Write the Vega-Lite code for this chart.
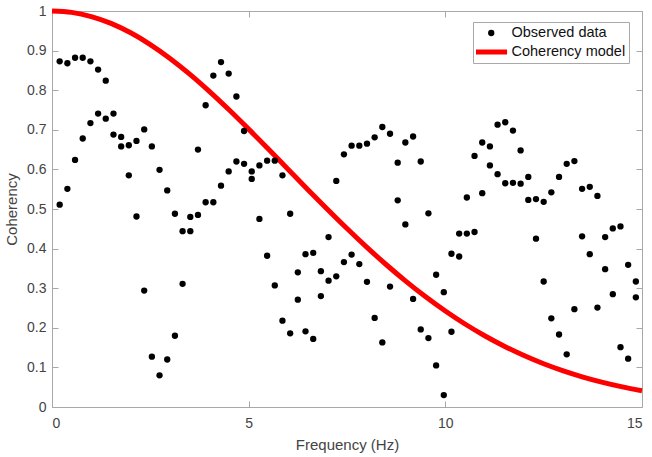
{
  "$schema": "https://vega.github.io/schema/vega-lite/v6.json",
  "width": 590,
  "height": 396,
  "autosize": {"type": "none"},
  "padding": {"left": 52, "top": 11, "right": 10, "bottom": 50},
  "background": "white",
  "config": {
    "view": {"stroke": "#a8a8a8", "strokeWidth": 1},
    "font": "Liberation Sans",
    "axis": {"labelFont": "Liberation Sans", "titleFont": "Liberation Sans", "labelColor": "#444444", "titleColor": "#444444", "tickColor": "#a8a8a8", "domain": false, "grid": false, "titleFontWeight": "normal"}
  },
  "datasets": {
    "obs": [
      {"f":0.195,"c":0.873},{"f":0.195,"c":0.511},
      {"f":0.391,"c":0.868},{"f":0.391,"c":0.551},
      {"f":0.586,"c":0.882},{"f":0.586,"c":0.624},
      {"f":0.781,"c":0.882},{"f":0.781,"c":0.678},
      {"f":0.977,"c":0.873},{"f":0.977,"c":0.717},
      {"f":1.172,"c":0.852},{"f":1.172,"c":0.741},
      {"f":1.367,"c":0.824},{"f":1.367,"c":0.728},
      {"f":1.563,"c":0.741},{"f":1.563,"c":0.688},
      {"f":1.758,"c":0.682},{"f":1.758,"c":0.658},
      {"f":1.953,"c":0.661},{"f":1.953,"c":0.585},
      {"f":2.148,"c":0.672},{"f":2.148,"c":0.481},
      {"f":2.344,"c":0.701},{"f":2.344,"c":0.294},
      {"f":2.539,"c":0.658},{"f":2.539,"c":0.127},
      {"f":2.734,"c":0.599},{"f":2.734,"c":0.080},
      {"f":2.930,"c":0.547},{"f":2.930,"c":0.120},
      {"f":3.125,"c":0.488},{"f":3.125,"c":0.180},
      {"f":3.320,"c":0.444},{"f":3.320,"c":0.311},
      {"f":3.516,"c":0.444},{"f":3.516,"c":0.480},
      {"f":3.711,"c":0.485},{"f":3.711,"c":0.650},
      {"f":3.906,"c":0.762},{"f":3.906,"c":0.517},
      {"f":4.102,"c":0.837},{"f":4.102,"c":0.517},
      {"f":4.297,"c":0.871},{"f":4.297,"c":0.559},
      {"f":4.492,"c":0.842},{"f":4.492,"c":0.595},
      {"f":4.688,"c":0.784},{"f":4.688,"c":0.620},
      {"f":4.883,"c":0.697},{"f":4.883,"c":0.614},
      {"f":5.078,"c":0.595},{"f":5.078,"c":0.576},
      {"f":5.273,"c":0.610},{"f":5.273,"c":0.475},
      {"f":5.469,"c":0.622},{"f":5.469,"c":0.382},
      {"f":5.664,"c":0.622},{"f":5.664,"c":0.307},
      {"f":5.859,"c":0.585},{"f":5.859,"c":0.218},
      {"f":6.055,"c":0.488},{"f":6.055,"c":0.186},
      {"f":6.250,"c":0.340},{"f":6.250,"c":0.271},
      {"f":6.445,"c":0.386},{"f":6.445,"c":0.191},
      {"f":6.641,"c":0.389},{"f":6.641,"c":0.172},
      {"f":6.836,"c":0.343},{"f":6.836,"c":0.280},
      {"f":7.031,"c":0.429},{"f":7.031,"c":0.319},
      {"f":7.227,"c":0.571},{"f":7.227,"c":0.330},
      {"f":7.422,"c":0.638},{"f":7.422,"c":0.366},
      {"f":7.617,"c":0.660},{"f":7.617,"c":0.385},
      {"f":7.813,"c":0.660},{"f":7.813,"c":0.361},
      {"f":8.008,"c":0.665},{"f":8.008,"c":0.316},
      {"f":8.203,"c":0.681},{"f":8.203,"c":0.225},
      {"f":8.398,"c":0.707},{"f":8.398,"c":0.163},
      {"f":8.594,"c":0.690},{"f":8.594,"c":0.304},
      {"f":8.789,"c":0.617},{"f":8.789,"c":0.522},
      {"f":8.984,"c":0.668},{"f":8.984,"c":0.461},
      {"f":9.180,"c":0.683},{"f":9.180,"c":0.273},
      {"f":9.375,"c":0.620},{"f":9.375,"c":0.196},
      {"f":9.570,"c":0.489},{"f":9.570,"c":0.174},
      {"f":9.766,"c":0.334},{"f":9.766,"c":0.105},
      {"f":9.961,"c":0.290},{"f":9.961,"c":0.030},
      {"f":10.156,"c":0.387},{"f":10.156,"c":0.190},
      {"f":10.352,"c":0.438},{"f":10.352,"c":0.380},
      {"f":10.547,"c":0.438},{"f":10.547,"c":0.529},
      {"f":10.742,"c":0.442},{"f":10.742,"c":0.634},
      {"f":10.938,"c":0.668},{"f":10.938,"c":0.540},
      {"f":11.133,"c":0.658},{"f":11.133,"c":0.610},
      {"f":11.328,"c":0.713},{"f":11.328,"c":0.588},
      {"f":11.523,"c":0.719},{"f":11.523,"c":0.565},
      {"f":11.719,"c":0.698},{"f":11.719,"c":0.566},
      {"f":11.914,"c":0.648},{"f":11.914,"c":0.564},
      {"f":12.109,"c":0.581},{"f":12.109,"c":0.523},
      {"f":12.305,"c":0.525},{"f":12.305,"c":0.425},
      {"f":12.500,"c":0.518},{"f":12.500,"c":0.317},
      {"f":12.695,"c":0.542},{"f":12.695,"c":0.224},
      {"f":12.891,"c":0.581},{"f":12.891,"c":0.183},
      {"f":13.086,"c":0.614},{"f":13.086,"c":0.133},
      {"f":13.281,"c":0.621},{"f":13.281,"c":0.247},
      {"f":13.477,"c":0.551},{"f":13.477,"c":0.431},
      {"f":13.672,"c":0.556},{"f":13.672,"c":0.386},
      {"f":13.867,"c":0.533},{"f":13.867,"c":0.251},
      {"f":14.063,"c":0.429},{"f":14.063,"c":0.348},
      {"f":14.258,"c":0.451},{"f":14.258,"c":0.285},
      {"f":14.453,"c":0.456},{"f":14.453,"c":0.151},
      {"f":14.648,"c":0.359},{"f":14.648,"c":0.122},
      {"f":14.844,"c":0.317},{"f":14.844,"c":0.277}
    ],
    "model": [
      {"f":0,"c":1},{"f":0.5,"c":0.9965},{"f":1,"c":0.9859},{"f":1.5,"c":0.9686},{"f":2,"c":0.9449},
      {"f":2.5,"c":0.9152},{"f":3,"c":0.8802},{"f":3.5,"c":0.8406},{"f":4,"c":0.7971},{"f":4.5,"c":0.7505},
      {"f":5,"c":0.7017},{"f":5.5,"c":0.6513},{"f":6,"c":0.6004},{"f":6.5,"c":0.5495},{"f":7,"c":0.4994},
      {"f":7.5,"c":0.4506},{"f":8,"c":0.4037},{"f":8.5,"c":0.3592},{"f":9,"c":0.3173},{"f":9.5,"c":0.2783},
      {"f":10,"c":0.2424},{"f":10.5,"c":0.2096},{"f":11,"c":0.18},{"f":11.5,"c":0.1535},{"f":12,"c":0.1299},
      {"f":12.5,"c":0.1092},{"f":13,"c":0.0912},{"f":13.5,"c":0.0756},{"f":14,"c":0.0622},{"f":14.5,"c":0.0508},
      {"f":15,"c":0.0412}
    ]
  },
  "layer": [
    {
      "data": {"name": "model"},
      "transform": [{"calculate": "'Coherency model'", "as": "series"}],
      "mark": {"type": "line", "strokeWidth": 5, "interpolate": "monotone", "clip": false},
      "encoding": {
        "x": {"field": "f", "type": "quantitative", "scale": {"domain": [0, 15], "nice": false, "zero": false},
          "axis": {"orient": "top", "values": [0, 5, 10, 15], "labels": false, "title": null, "tickSize": -6}},
        "y": {"field": "c", "type": "quantitative", "scale": {"domain": [0, 1], "nice": false},
          "axis": {"orient": "right", "values": [0,0.1,0.2,0.3,0.4,0.5,0.6,0.7,0.8,0.9,1], "labels": false, "title": null, "tickSize": -6}},
        "color": {"field": "series", "type": "nominal",
          "scale": {"domain": ["Observed data", "Coherency model"], "range": ["#000000", "#ff0000"]},
          "legend": {
            "orient": "none", "legendX": 421, "legendY": 11, "title": null,
            "strokeColor": "#a8a8a8", "fillColor": "white", "padding": 3,
            "labelFont": "Liberation Sans", "labelFontSize": 14.5, "labelColor": "#111111", "labelOffset": 13,
            "symbolOffset": 8, "clipHeight": 16,
            "rowPadding": 3, "symbolSize": 1000,
            "encode": {"symbols": {"update": {
              "shape": {"signal": "datum.value === 'Coherency model' ? 'stroke' : 'circle'"},
              "size": {"signal": "datum.value === 'Coherency model' ? 1000 : 40"},
              "strokeWidth": {"signal": "datum.value === 'Coherency model' ? 5 : 0"},
              "fill": {"signal": "datum.value === 'Coherency model' ? 'transparent' : '#000000'"},
              "stroke": {"value": "#ff0000"},
              "opacity": {"value": 1}
            }}}
          }
        }
      }
    },
    {
      "data": {"name": "obs"},
      "transform": [{"calculate": "'Observed data'", "as": "series"}],
      "mark": {"type": "circle", "size": 40, "opacity": 1},
      "encoding": {
        "x": {"field": "f", "type": "quantitative", "scale": {"domain": [0, 15], "nice": false, "zero": false},
          "axis": {"orient": "bottom", "values": [0, 5, 10, 15], "title": "Frequency (Hz)", "tickSize": -6,
            "labelFontSize": 14, "titleFontSize": 15, "labelPadding": 15, "titlePadding": 7}},
        "y": {"field": "c", "type": "quantitative", "scale": {"domain": [0, 1], "nice": false},
          "axis": {"orient": "left", "values": [0,0.1,0.2,0.3,0.4,0.5,0.6,0.7,0.8,0.9,1], "format": "~g", "title": "Coherency", "tickSize": -6,
            "labelFontSize": 14, "titleFontSize": 15, "labelPadding": 12, "titlePadding": 7}},
        "color": {"field": "series", "type": "nominal"}
      }
    }
  ],
  "resolve": {"axis": {"x": "independent", "y": "independent"}}
}
